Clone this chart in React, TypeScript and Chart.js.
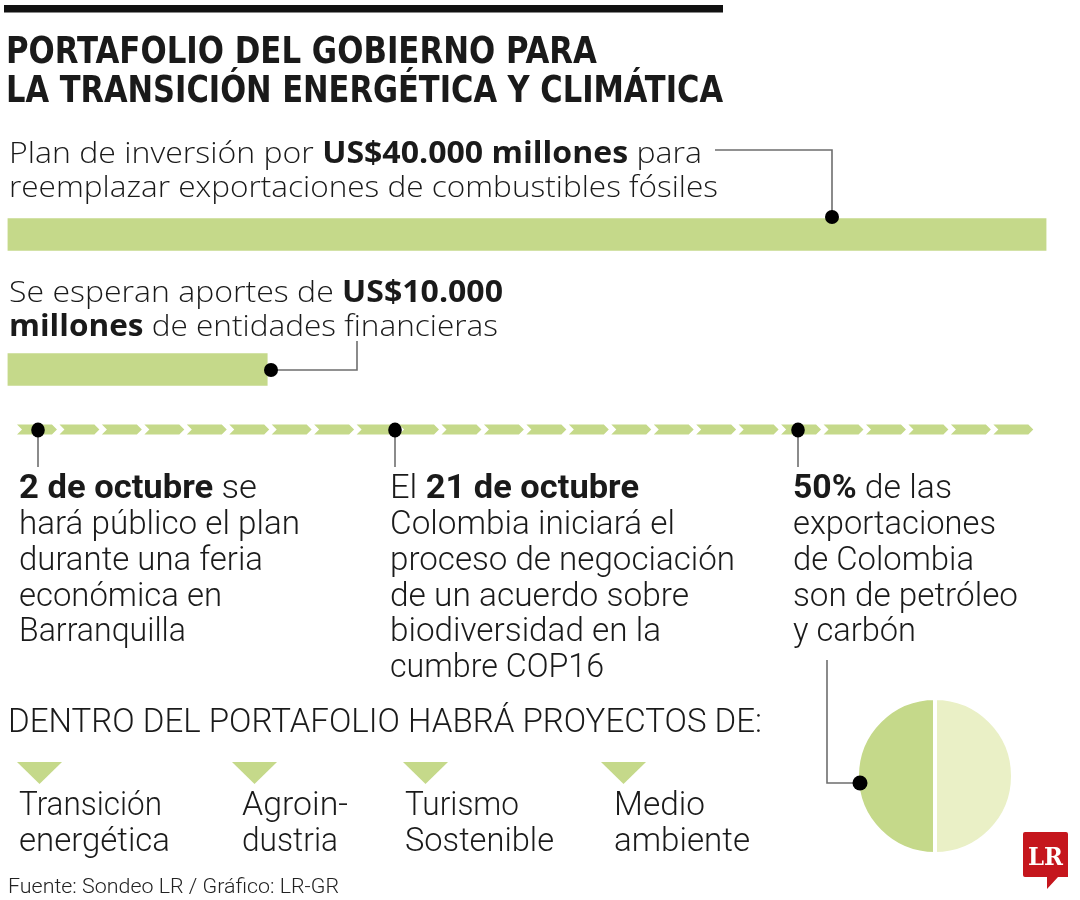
import React, { useEffect, useRef } from "react";
import { Chart, registerables } from "chart.js";

Chart.register(...registerables);

// ---- data ----
const BAR_CATEGORIES = ["Plan de inversión", "Aportes de entidades financieras"];
const BAR_VALUES = [40000, 10000]; // US$ millones
const BAR_MAX = 40000;
const PIE_LABELS = ["Petróleo y carbón", "Otras exportaciones"];
const PIE_VALUES = [50, 50];

const GREEN = "#c5d98a";
const LIGHT_GREEN = "#eaf0c6";
const INK = "#1a1a1a";
const LINE = "#6e6e6e";

const CONDENSED = "Roboto, 'Open Sans', 'DejaVu Sans Condensed', sans-serif";
const TITLE_FONT = "'DejaVu Sans Condensed', Roboto, sans-serif";
const NORMAL = "'Open Sans', 'Noto Sans', sans-serif";

type Seg = { t: string; b?: boolean };
type Line = { x: number; y: number; w: number; segs: Seg[] };

const COL1: Line[] = [
  { x: 19, y: 498, w: 238, segs: [{ t: "2 de octubre", b: true }, { t: " se" }] },
  { x: 19, y: 534, w: 281, segs: [{ t: "hará público el plan" }] },
  { x: 19, y: 570, w: 244, segs: [{ t: "durante una feria" }] },
  { x: 19, y: 606, w: 203, segs: [{ t: "económica en" }] },
  { x: 19, y: 641, w: 167, segs: [{ t: "Barranquilla" }] },
];
const COL2: Line[] = [
  { x: 390, y: 498, w: 249, segs: [{ t: "El " }, { t: "21 de octubre", b: true }] },
  { x: 390, y: 534, w: 285, segs: [{ t: "Colombia iniciará el" }] },
  { x: 390, y: 570, w: 345, segs: [{ t: "proceso de negociación" }] },
  { x: 390, y: 606, w: 299, segs: [{ t: "de un acuerdo sobre" }] },
  { x: 390, y: 641, w: 271, segs: [{ t: "biodiversidad en la" }] },
  { x: 390, y: 677, w: 214, segs: [{ t: "cumbre COP16" }] },
];
const COL3: Line[] = [
  { x: 793, y: 498, w: 159, segs: [{ t: "50%", b: true }, { t: " de las" }] },
  { x: 793, y: 534, w: 203, segs: [{ t: "exportaciones" }] },
  { x: 793, y: 570, w: 181, segs: [{ t: "de Colombia" }] },
  { x: 793, y: 606, w: 225, segs: [{ t: "son de petróleo" }] },
  { x: 793, y: 641, w: 123, segs: [{ t: "y carbón" }] },
];
const LABELS: Line[] = [
  { x: 19, y: 815, w: 143, segs: [{ t: "Transición" }] },
  { x: 19, y: 851, w: 151, segs: [{ t: "energética" }] },
  { x: 242, y: 815, w: 106, segs: [{ t: "Agroin-" }] },
  { x: 242, y: 851, w: 96, segs: [{ t: "dustria" }] },
  { x: 405, y: 815, w: 114, segs: [{ t: "Turismo" }] },
  { x: 405, y: 851, w: 149, segs: [{ t: "Sostenible" }] },
  { x: 614, y: 815, w: 91, segs: [{ t: "Medio" }] },
  { x: 614, y: 851, w: 136, segs: [{ t: "ambiente" }] },
];
const TRIANGLES_X = [17, 232, 403, 601];

function TextLine({ l, size, family }: { l: Line; size: number; family: string }) {
  return (
    <text
      x={l.x}
      y={l.y}
      textLength={l.w}
      lengthAdjust="spacingAndGlyphs"
      fontSize={size}
      fontFamily={family}
      fill={INK}
    >
      {l.segs.map((s, i) => (
        <tspan key={i} fontWeight={s.b ? 700 : 300}>
          {s.t}
        </tspan>
      ))}
    </text>
  );
}

function chevrons() {
  const out: JSX.Element[] = [];
  const x0 = 17;
  const period = 42.45;
  const n = 24;
  const top = 424.5;
  const bot = 434.5;
  const mid = (top + bot) / 2;
  const tip = 5;
  for (let i = 0; i < n; i++) {
    const a = x0 + i * period;
    const b = a + period - 2.5;
    out.push(
      <polygon
        key={i}
        points={`${a},${top} ${b - tip},${top} ${b},${mid} ${b - tip},${bot} ${a},${bot} ${a + tip},${mid}`}
        fill={GREEN}
      />
    );
  }
  return out;
}

export default function App() {
  const barRef = useRef<HTMLCanvasElement>(null);
  const pieRef = useRef<HTMLCanvasElement>(null);

  useEffect(() => {
    const bar = new Chart(barRef.current!, {
      type: "bar",
      data: {
        labels: BAR_CATEGORIES,
        datasets: [
          {
            data: BAR_VALUES,
            backgroundColor: GREEN,
            borderWidth: 0,
            barThickness: 32,
          },
        ],
      },
      options: {
        indexAxis: "y",
        animation: false,
        responsive: false,
        events: [],
        layout: { padding: { left: 7.5, right: 33.5, top: 167, bottom: 463 } },
        plugins: { legend: { display: false }, tooltip: { enabled: false } },
        scales: {
          x: { display: false, min: 0, max: BAR_MAX },
          y: { display: false },
        },
      },
    });
    const pie = new Chart(pieRef.current!, {
      type: "pie",
      data: {
        labels: PIE_LABELS,
        datasets: [
          {
            data: PIE_VALUES,
            backgroundColor: [GREEN, LIGHT_GREEN],
            borderColor: "#ffffff",
            borderWidth: 4,
          },
        ],
      },
      options: {
        animation: false,
        responsive: false,
        events: [],
        rotation: 180,
        layout: { padding: 0 },
        plugins: { legend: { display: false }, tooltip: { enabled: false } },
      },
    });
    return () => {
      bar.destroy();
      pie.destroy();
    };
  }, []);

  return (
    <div
      style={{
        position: "absolute",
        left: 0,
        top: 0,
        width: 1080,
        height: 900,
        background: "#ffffff",
        overflow: "hidden",
      }}
    >
      <canvas
        ref={barRef}
        width={1080}
        height={900}
        style={{ position: "absolute", left: 0, top: 0, width: 1080, height: 900 }}
      />
      <canvas
        ref={pieRef}
        width={160}
        height={160}
        style={{ position: "absolute", left: 855, top: 696, width: 160, height: 160 }}
      />
      <svg
        width={1080}
        height={900}
        style={{ position: "absolute", left: 0, top: 0, pointerEvents: "none" }}
      >
        {/* top rule */}
        <rect x={4} y={5} width={719} height={7.5} fill="#111" />
        {/* title */}
        <text x={6} y={63} textLength={591} lengthAdjust="spacingAndGlyphs" fontSize={37} fontWeight={700} fontFamily={TITLE_FONT} fill={INK}>
          PORTAFOLIO DEL GOBIERNO PARA
        </text>
        <text x={6} y={102} textLength={717} lengthAdjust="spacingAndGlyphs" fontSize={37} fontWeight={700} fontFamily={TITLE_FONT} fill={INK}>
          LA TRANSICIÓN ENERGÉTICA Y CLIMÁTICA
        </text>

        {/* block 1 */}
        <TextLine l={{ x: 9, y: 163, w: 693, segs: [{ t: "Plan de inversión por " }, { t: "US$40.000 millones", b: true }, { t: " para" }] }} size={30} family={NORMAL} />
        <TextLine l={{ x: 9, y: 197, w: 709, segs: [{ t: "reemplazar exportaciones de combustibles fósiles" }] }} size={30} family={NORMAL} />
        <polyline points="715,150 832,150 832,217" fill="none" stroke={LINE} strokeWidth={1.6} />
        <circle cx={832} cy={217} r={7} fill="#000" />

        {/* block 2 */}
        <TextLine l={{ x: 9, y: 302, w: 494, segs: [{ t: "Se esperan aportes de " }, { t: "US$10.000", b: true }] }} size={30} family={NORMAL} />
        <TextLine l={{ x: 9, y: 336, w: 489, segs: [{ t: "millones", b: true }, { t: " de entidades financieras" }] }} size={30} family={NORMAL} />
        <polyline points="271,370 357,370 357,341" fill="none" stroke={LINE} strokeWidth={1.6} />
        <circle cx={271} cy={370} r={7} fill="#000" />

        {/* timeline */}
        {chevrons()}
        {[38, 395, 798].map((x) => (
          <g key={x}>
            <line x1={x} y1={430} x2={x} y2={467} stroke={LINE} strokeWidth={1.6} />
            <ellipse cx={x} cy={430} rx={6.8} ry={7.5} fill="#000" />
          </g>
        ))}
        {COL1.map((l, i) => <TextLine key={"a" + i} l={l} size={34} family={CONDENSED} />)}
        {COL2.map((l, i) => <TextLine key={"b" + i} l={l} size={34} family={CONDENSED} />)}
        {COL3.map((l, i) => <TextLine key={"c" + i} l={l} size={34} family={CONDENSED} />)}

        {/* pie leader */}
        <polyline points="827,660 827,783 860,783" fill="none" stroke={LINE} strokeWidth={1.6} />
        <circle cx={860} cy={783} r={7.5} fill="#000" />

        {/* projects */}
        <text x={8} y={732} textLength={754} lengthAdjust="spacingAndGlyphs" fontSize={34} fontWeight={300} fontFamily={CONDENSED} fill={INK}>
          DENTRO DEL PORTAFOLIO HABRÁ PROYECTOS DE:
        </text>
        {TRIANGLES_X.map((x) => (
          <polygon key={x} points={`${x},762 ${x + 45},762 ${x + 22.5},784`} fill={GREEN} />
        ))}
        {LABELS.map((l, i) => <TextLine key={"l" + i} l={l} size={34} family={CONDENSED} />)}

        {/* footer */}
        <text x={8} y={893} textLength={331} lengthAdjust="spacingAndGlyphs" fontSize={21} fontWeight={300} fontFamily={CONDENSED} fill="#222">
          Fuente: Sondeo LR / Gráfico: LR-GR
        </text>

        {/* LR logo */}
        <path d="M1025,832 H1066 Q1068,832 1068,834 V877 H1058 L1047,889 V877 H1025 Q1023,877 1023,875 V834 Q1023,832 1025,832 Z" fill="#c5161d" />
        <text x={1028} y={865} textLength={35} lengthAdjust="spacingAndGlyphs" fontSize={25} fontWeight={700} fontFamily="'DejaVu Serif', 'Liberation Serif', serif" fill="#ffffff">
          LR
        </text>
      </svg>
    </div>
  );
}
